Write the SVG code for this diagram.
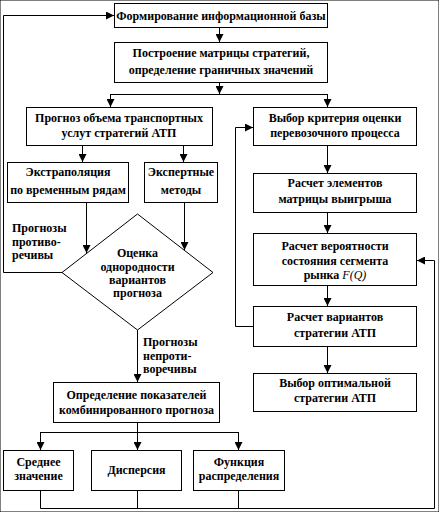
<svg xmlns="http://www.w3.org/2000/svg" width="439" height="512" viewBox="0 0 439 512">
<defs>
<marker id="ah" viewBox="0 0 8 8" refX="8" refY="4" markerWidth="8" markerHeight="8" markerUnits="userSpaceOnUse" orient="auto">
<path d="M0,0 L8,4 L0,8 Z" fill="#000"/>
</marker>
<style>
rect,polygon{fill:#fff;stroke:#000;stroke-width:1}
.c path{fill:none;stroke:#000;stroke-width:1}
.a{marker-end:url(#ah)}
text{font-family:"Liberation Serif","Times New Roman",serif;font-weight:bold;font-size:12px;fill:#000}
.m{text-anchor:middle}
.it{font-style:italic;font-weight:normal}
</style>
</defs>
<rect x="0" y="0" width="439" height="512" fill="#fff" stroke="none"/>
<g class="c">
<path class="a" d="M62.5,272.5 H3.5 V15.5 H114"/>
<path class="a" d="M219.5,27 V42"/>
<path class="a" d="M219.5,82 V94"/>
<path d="M110.5,94.5 H327.5"/>
<path class="a" d="M110.5,94 V107"/>
<path class="a" d="M327.5,94 V107"/>
<path class="a" d="M82.5,145 V162"/>
<path class="a" d="M183.5,145 V162"/>
<path class="a" d="M86.5,202 V253"/>
<path class="a" d="M184.5,202 V250"/>
<path class="a" d="M137.5,330 V382"/>
<path d="M137.5,422 V432.5 M40.5,432.5 H238.5"/>
<path class="a" d="M40.5,432 V450"/>
<path class="a" d="M137.5,432 V450"/>
<path class="a" d="M238.5,432 V450"/>
<path d="M40.5,490 V508.5 M137.5,490 V508.5 M238.5,490 V508.5 M40.5,508.5 H434.5 V260.5"/>
<path class="a" d="M434.5,260.5 H417"/>
<path class="a" d="M327.5,145 V173"/>
<path class="a" d="M327.5,212 V233"/>
<path class="a" d="M327.5,285 V306"/>
<path class="a" d="M327.5,346 V373"/>
<path class="a" d="M253,326.5 H235.5 V127.5 H253"/>
</g>
<g id="n1"><rect x="114.5" y="3.5" width="213" height="24"/><text class="m" x="221" y="19.5">Формирование информационной базы</text></g>
<g id="n2"><rect x="114.5" y="42.5" width="213" height="40"/><text class="m" x="221" y="57">Построение матрицы стратегий,</text><text class="m" x="221" y="74">определение граничных значений</text></g>
<g id="n3"><rect x="26.5" y="107.5" width="186" height="38"/><text class="m" x="119" y="122">Прогноз объема транспортных</text><text class="m" x="119" y="137">услут стратегий АТП</text></g>
<g id="n4"><rect x="253.5" y="107.5" width="163" height="38"/><text class="m" x="335" y="122">Выбор критерия оценки</text><text class="m" x="335" y="137">перевозочного процесса</text></g>
<g id="n5"><rect x="7.5" y="162.5" width="121" height="40"/><text class="m" x="68" y="176">Экстраполяция</text><text class="m" x="68" y="194">по временным рядам</text></g>
<g id="n6"><rect x="144.5" y="162.5" width="73" height="40"/><text class="m" x="181" y="176">Экспертные</text><text class="m" x="181" y="194">методы</text></g>
<g id="n7"><polygon points="137.5,214 213,272.5 137.5,330 62,272.5"/><text class="m" x="137.5" y="257">Оценка</text><text class="m" x="137.5" y="271">однородности</text><text class="m" x="137.5" y="284">вариантов</text><text class="m" x="137.5" y="297">прогноза</text></g>
<g id="l1"><text x="12" y="232">Прогнозы</text><text x="12" y="246">противо-</text><text x="12" y="259">речивы</text></g>
<g id="l2"><text x="143" y="346">Прогнозы</text><text x="143" y="360">непроти-</text><text x="143" y="373">воречивы</text></g>
<g id="n8"><rect x="53.5" y="382.5" width="166" height="40"/><text class="m" x="136.5" y="399">Определение показателей</text><text class="m" x="136.5" y="414">комбинированного прогноза</text></g>
<g id="n9"><rect x="3.5" y="450.5" width="70" height="40"/><text class="m" x="38.5" y="466">Среднее</text><text class="m" x="38.5" y="480">значение</text></g>
<g id="n10"><rect x="91.5" y="450.5" width="90" height="40"/><text class="m" x="136.5" y="474">Дисперсия</text></g>
<g id="n11"><rect x="193.5" y="450.5" width="91" height="40"/><text class="m" x="239" y="466">Функция</text><text class="m" x="239" y="480">распределения</text></g>
<g id="n12"><rect x="253.5" y="173.5" width="163" height="39"/><text class="m" x="335" y="187">Расчет элементов</text><text class="m" x="335" y="203">матрицы выигрыша</text></g>
<g id="n13"><rect x="253.5" y="233.5" width="163" height="52"/><text class="m" x="335" y="250">Расчет вероятности</text><text class="m" x="335" y="265">состояния сегмента</text><text class="m" x="335" y="279">рынка <tspan class="it">F</tspan><tspan class="it">(</tspan><tspan class="it">Q</tspan><tspan class="it">)</tspan></text></g>
<g id="n14"><rect x="253.5" y="306.5" width="163" height="40"/><text class="m" x="335" y="321">Расчет вариантов</text><text class="m" x="335" y="337">стратегии АТП</text></g>
<g id="n15"><rect x="253.5" y="373.5" width="163" height="38"/><text class="m" x="335" y="387">Выбор оптимальной</text><text class="m" x="335" y="402">стратегии АТП</text></g>
</svg>
